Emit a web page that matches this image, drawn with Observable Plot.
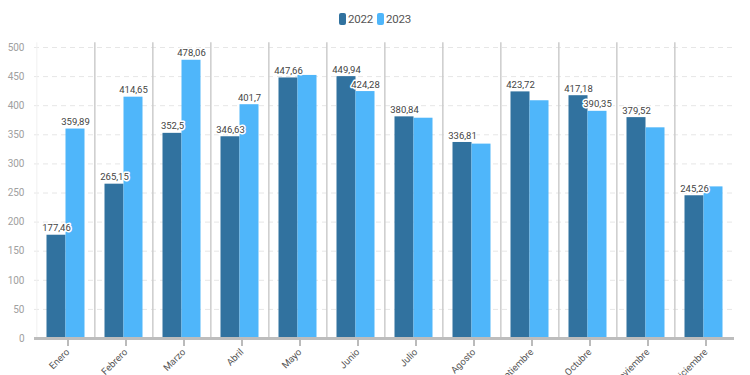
<!DOCTYPE html>
<html>
<head>
<meta charset="utf-8">
<script src="https://cdn.jsdelivr.net/npm/d3@7"></script>
<script src="https://cdn.jsdelivr.net/npm/@observablehq/plot@0.6"></script>
<style>
  html, body { margin: 0; padding: 0; background: #fff; }
  body { width: 750px; height: 375px; position: relative; overflow: hidden; font-family: Roboto, "Noto Sans", sans-serif; }
  #legend { position: absolute; top: 12px; left: 0; width: 750px; text-align: center; font-size: 11.5px; color: #555; z-index: 2; letter-spacing: -0.2px; }
  #legend span.sw { display: inline-block; width: 7px; height: 12px; border-radius: 2px; vertical-align: -2px; margin-right: 2px; }
  #legend span.it { margin: 0 2px; }
  #chart { position: absolute; top: 0; left: 0; z-index: 1; }
</style>
</head>
<body>
<div id="legend"></div>
<div id="chart"></div>
<script>
const months = ["Enero","Febrero","Marzo","Abril","Mayo","Junio","Julio","Agosto","Septiembre","Octubre","Noviembre","Diciembre"];
const values2022 = [177.46, 265.15, 352.5, 346.63, 447.66, 449.94, 380.84, 336.81, 423.72, 417.18, 379.52, 245.26];
const values2023 = [359.89, 414.65, 478.06, 401.7, 452, 424.28, 378.5, 334, 408.5, 390.35, 362, 260.5];
const labeled2023 = ["Enero","Febrero","Marzo","Abril","Junio","Octubre"];
const yTicks = [0, 50, 100, 150, 200, 250, 300, 350, 400, 450, 500];
const seriesNames = ["2022", "2023"];
const colors = ["#31729f", "#4fb6fa"];

const rows2022 = months.map((m, i) => ({month: m, value: values2022[i]}));
const rows2023 = months.map((m, i) => ({month: m, value: values2023[i]}));
const fmt = v => String(v).replace(".", ",");

const W = 750, ML = 34, MR = 16;
const step = (W - ML - MR) / months.length;
const half = 9.5;

const legend = document.getElementById("legend");
legend.innerHTML = seriesNames.map((n, i) =>
  `<span class="it"><span class="sw" style="background:${colors[i]}"></span>${n}</span>`).join("");

const labelStyle = {fontSize: 9.5, fill: "#444", stroke: "white", strokeWidth: 3, paintOrder: "stroke", textAnchor: "middle", dy: -7};

const chart = Plot.plot({
  width: W,
  height: 375,
  marginTop: 47,
  marginBottom: 37,
  marginLeft: ML,
  marginRight: MR,
  style: {fontFamily: "Roboto, 'Noto Sans', sans-serif", background: "transparent", overflow: "visible"},
  x: {domain: months, paddingInner: 0.674, paddingOuter: 0.337, axis: null},
  y: {domain: [0, 500], axis: null},
  marks: [
    Plot.ruleY(yTicks.filter(t => t > 0), {stroke: "#e6e6e6", strokeDasharray: "5,4"}),
    Plot.ruleX(months.slice(1), {x: d => d, y1: 0, y2: 508, dx: -step / 2, stroke: "#cccccc", strokeWidth: 1.5}),
    Plot.ruleX([months[0]], {x: d => d, y1: 0, y2: 508, dx: -step / 2, stroke: "#f0f0f0", strokeWidth: 1}),
    Plot.barY(rows2022, {x: "month", y: "value", fill: colors[0], dx: -half}),
    Plot.barY(rows2023, {x: "month", y: "value", fill: colors[1], dx: half}),
    Plot.ruleY([0], {stroke: "#bdbdbd", strokeWidth: 3}),
    Plot.axisY({ticks: yTicks, tickSize: 0, tickPadding: 10, fill: "#a0a0a0", fontSize: 10, tickFormat: d => String(d), label: null}),
    Plot.axisX({tickSize: 8, stroke: "#bbbbbb", strokeWidth: 2, tickRotate: -45, tickPadding: 4, fill: "#555", fontSize: 9.5, label: null, dx: 2}),
    Plot.text(rows2022, {x: "month", y: "value", text: d => fmt(d.value), dx: -half, ...labelStyle}),
    Plot.text(rows2023.filter(d => labeled2023.includes(d.month)), {x: "month", y: "value", text: d => fmt(d.value), dx: half, ...labelStyle})
  ]
});
document.getElementById("chart").appendChild(chart);
</script>
</body>
</html>
